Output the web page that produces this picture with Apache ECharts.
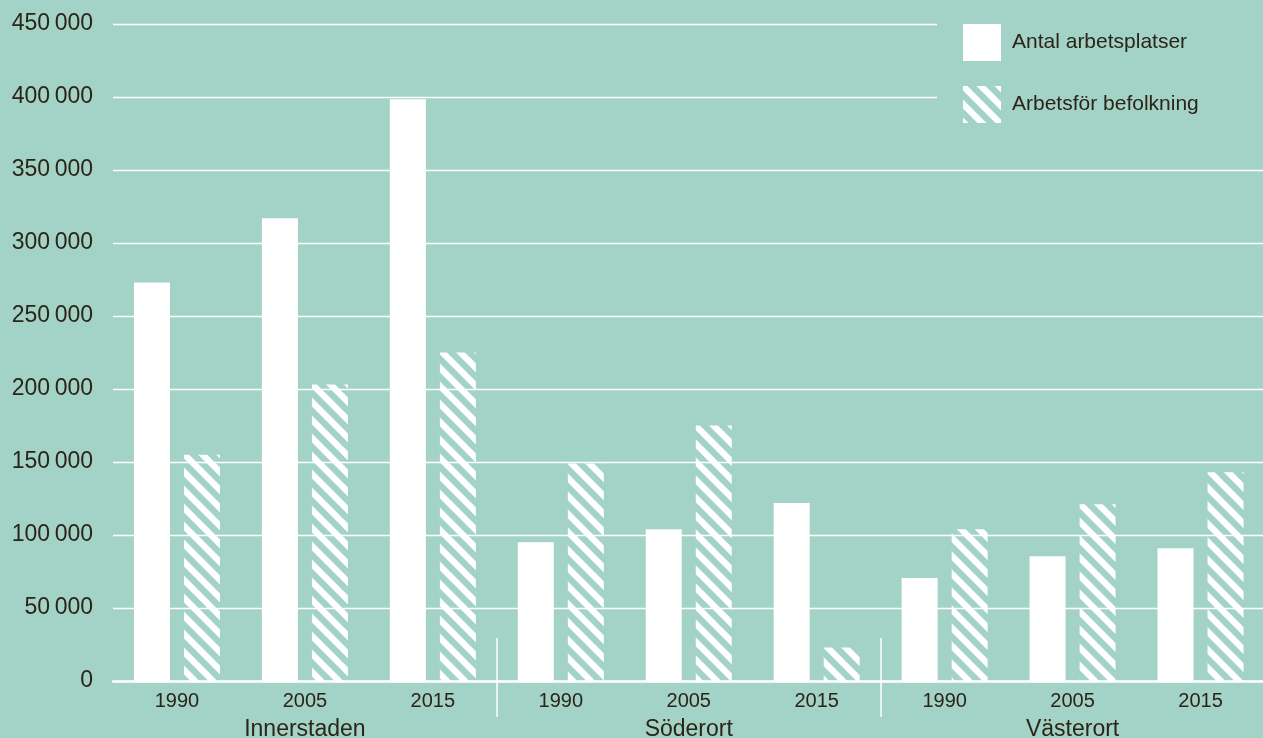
<!DOCTYPE html>
<html>
<head>
<meta charset="utf-8">
<script src="https://cdn.jsdelivr.net/npm/echarts@6/dist/echarts.min.js"></script>
<style>
html,body{margin:0;padding:0;background:#a2d3c6;}
#chart{width:1263px;height:738px;}
</style>
</head>
<body>
<div id="chart"></div>
<script>
// ---- data ----
const years = ['1990', '2005', '2015', '1990', '2005', '2015', '1990', '2005', '2015'];
const regions = ['Innerstaden', 'Söderort', 'Västerort'];
const seriesNames = ['Antal arbetsplatser', 'Arbetsför befolkning'];
const jobs = [273000, 317000, 398500, 95000, 104000, 122000, 70500, 85500, 91000];
const workforce = [155000, 203000, 225000, 149000, 175000, 23000, 104000, 121000, 143000];
const yTicks = { min: 0, max: 450000, interval: 50000 };

// ---- styling ----
const BG = '#a2d3c6';
const TXT = '#2d2419';
const FONT = 'Liberation Sans, Arial, sans-serif';

function makeHatch() {
  const s = 18;
  const c = document.createElement('canvas');
  c.width = s; c.height = s;
  const ctx = c.getContext('2d');
  ctx.strokeStyle = '#ffffff';
  ctx.lineWidth = s / Math.SQRT2 / 2;
  ctx.lineCap = 'square';
  for (let k = -1; k <= 1; k++) {
    ctx.beginPath();
    ctx.moveTo(k * s - 2, -2);
    ctx.lineTo(k * s + s + 2, s + 2);
    ctx.stroke();
  }
  return c;
}
const hatch = { image: makeHatch(), repeat: 'repeat' };

function fmt(v) {
  if (v === 0) return '0';
  const s = String(v);
  return s.slice(0, s.length - 3) + '\u2009' + s.slice(-3);
}
function innerSep(i) { return i === 1 || i === 2; }

const chart = echarts.init(document.getElementById('chart'), null, { renderer: 'canvas' });
chart.setOption({
  backgroundColor: BG,
  animation: false,
  textStyle: { fontFamily: FONT, color: TXT },
  grid: { left: 113, right: -1.5, top: 24, bottom: 57, containLabel: false, outerBoundsMode: 'none' },
  legend: {
    orient: 'vertical',
    left: 937,
    top: 9,
    padding: [15, 80, 22, 26],
    backgroundColor: BG,
    icon: 'rect',
    itemWidth: 38,
    itemHeight: 37,
    itemGap: 25,
    selectedMode: false,
    textStyle: { fontSize: 21, color: TXT, fontFamily: FONT, padding: [3, 0, 0, 6] },
    data: seriesNames
  },
  xAxis: [
    {
      type: 'category',
      data: years,
      position: 'bottom',
      axisLine: { show: true, lineStyle: { color: '#ffffff', width: 2.5 } },
      axisTick: { show: false },
      axisLabel: { fontSize: 20, color: TXT, fontFamily: FONT, margin: 10 },
      splitLine: { show: false }
    },
    {
      type: 'category',
      data: regions,
      position: 'bottom',
      axisLine: { show: false },
      axisTick: {
        show: true, length: 36, inside: false,
        interval: innerSep,
        lineStyle: { color: '#ffffff', width: 1.5 }
      },
      axisLabel: { fontSize: 23, color: TXT, fontFamily: FONT, margin: 37 },
      splitLine: { show: false }
    },
    {
      type: 'category',
      data: regions,
      position: 'bottom',
      axisLine: { show: false },
      axisTick: {
        show: true, length: 43, inside: true,
        interval: innerSep,
        lineStyle: { color: '#ffffff', width: 1.5 }
      },
      axisLabel: { show: false },
      splitLine: { show: false }
    }
  ],
  yAxis: {
    type: 'value',
    min: yTicks.min,
    max: yTicks.max,
    interval: yTicks.interval,
    axisLine: { show: false },
    axisTick: { show: false },
    axisLabel: { fontSize: 23, color: TXT, fontFamily: FONT, margin: 20, formatter: fmt },
    splitLine: { show: true, lineStyle: { color: '#ffffff', width: 1.3 } }
  },
  series: [
    {
      name: seriesNames[0],
      type: 'bar',
      data: jobs,
      barWidth: 36,
      barGap: '39%',
      itemStyle: { color: '#ffffff' }
    },
    {
      name: seriesNames[1],
      type: 'bar',
      data: workforce,
      barWidth: 36,
      barGap: '39%',
      itemStyle: { color: hatch }
    }
  ]
});
</script>
</body>
</html>
